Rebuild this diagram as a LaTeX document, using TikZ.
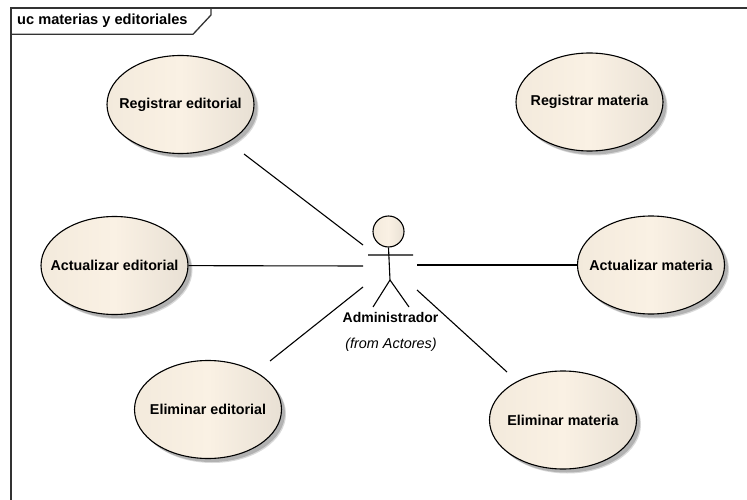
\documentclass[tikz,border=0pt]{standalone}
\usepackage{fontspec}
\setmainfont{Liberation Sans}
\usetikzlibrary{shapes.geometric}
\definecolor{ucl}{RGB}{250,241,228}
\definecolor{ucm}{RGB}{243,234,220}
\definecolor{ucd}{RGB}{232,224,212}
\newcommand{\ucase}[4]{%
  \fill[black!15] (#2+4.5,#3+4.5) ellipse (73.5 and 49);
  \fill[black!30] (#2+3.5,#3+3.5) ellipse (73.5 and 49);
  \node[uc] (#1) at (#2,#3) {\makebox[0pt]{#4}};}
\begin{document}
\begin{tikzpicture}[x=1pt,y=-1pt,
  uc/.style={ellipse,draw=black,line width=1.1pt,left color=ucm,right color=ucd,middle color=ucl,font=\bfseries\fontsize{14.3}{17}\selectfont,inner sep=0pt,minimum width=147pt,minimum height=98pt},
  assoc/.style={line width=1.1pt,black},
  framel/.style={line width=1.3pt,black!80},
  lbl/.style={font=\fontsize{14.3}{17}\selectfont,inner sep=0pt}]
\useasboundingbox (0,0) rectangle (747,500);
\fill[white] (0,0) rectangle (747,500);
\draw[framel] (11,500) -- (11,8) -- (747,8);
\draw[framel] (11,34.3) -- (193,34.3) -- (211,15) -- (211,8);
\node[lbl,anchor=west,font=\bfseries\fontsize{14.6}{17}\selectfont] (title) at (17,21) {uc materias y editoriales};
\ucase{re}{180.5}{104.5}{Registrar editorial}
\ucase{rm}{589.5}{102}{Registrar materia}
\ucase{ae}{114.5}{265.5}{Actualizar editorial}
\ucase{am}{651}{265}{Actualizar materia}
\ucase{ee}{208}{409.5}{Eliminar editorial}
\ucase{em}{563}{420}{Eliminar materia}
% actor
\node[circle,draw=black,line width=1.1pt,left color=ucm,right color=ucd,middle color=ucl,minimum size=31pt,inner sep=0pt] (head) at (388.5,231.5) {};
\coordinate (hip) at (390,280);
\coordinate (la) at (368,255);
\coordinate (ra) at (413,255);
\coordinate (ll) at (373,307);
\coordinate (rl) at (409,307);
\draw[assoc] (head.south) -- (hip) (la) -- (ra) (ll) -- (hip) -- (rl);
\node[lbl,font=\bfseries\fontsize{14}{17}\selectfont] (act) at (390.5,317) {Administrador};
\node[lbl,font=\itshape\fontsize{14.4}{17}\selectfont] (from) at (391,345) {(from Actores)};
\coordinate (c1) at (363,245);
\coordinate (c2) at (363,266);
\coordinate (c3) at (363,287);
\coordinate (c4) at (417,265);
\coordinate (c5) at (417,290);
\coordinate (e1) at (244,154);
\coordinate (e3) at (270,361);
\coordinate (e5) at (507,372);
\draw[assoc] (e1) -- (c1);
\draw[assoc] (ae) -- (c2);
\draw[assoc] (e3) -- (c3);
\draw[assoc] (am) -- (c4);
\draw[assoc] (e5) -- (c5);
\end{tikzpicture}
\end{document}
